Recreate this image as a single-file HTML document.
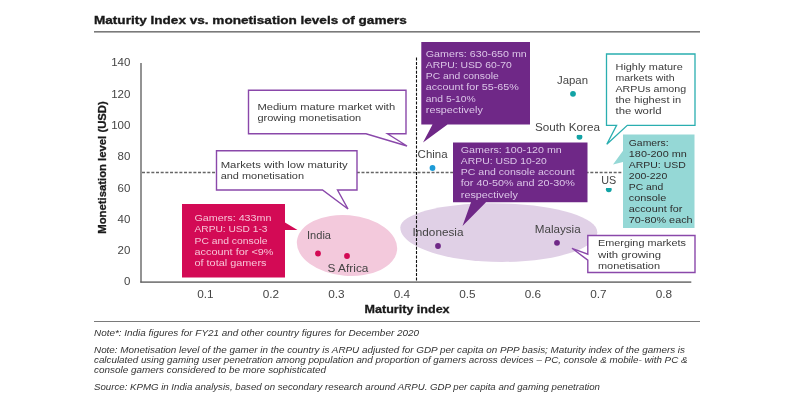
<!DOCTYPE html>
<html lang="en">
<head>
<meta charset="utf-8">
<title>Maturity Index vs. monetisation levels of gamers</title>
<style>
html,body{margin:0;padding:0;background:#fff;}
body{width:800px;height:400px;overflow:hidden;font-family:"Liberation Sans",sans-serif;}
svg{display:block;position:absolute;left:0;top:0;filter:blur(0.45px);}
text{font-family:"Liberation Sans",sans-serif;}
.b{font-weight:bold;}
.i{font-style:italic;}
</style>
</head>
<body>
<svg width="800" height="400" viewBox="0 0 800 400">
<rect x="0" y="0" width="800" height="400" fill="#ffffff"/>
<text x="94" y="24.2" font-size="11.5" fill="#1a1a1a" class="b" textLength="312.8" lengthAdjust="spacingAndGlyphs" stroke="#1a1a1a" stroke-width="0.35">Maturity Index vs. monetisation levels of gamers</text>
<rect x="94" y="31" width="606" height="1.6" fill="#7a7a7a"/>
<ellipse cx="347" cy="245.5" rx="50.3" ry="30.3" fill="#f3c9dc" transform="rotate(5 347 245.5)"/>
<path d="M400.3,227.5 C400.3,214.1 441.4,203.3 492,203.3 C550.2,203.3 597.3,216.3 597.3,232.3 C597.3,248.7 554.6,262 502,262 C445.8,262 400.3,246.6 400.3,227.5 Z" fill="#e0d0e6"/>
<rect x="140.3" y="63" width="1.4" height="219.5" fill="#666"/>
<rect x="140.3" y="281.4" width="551" height="1.4" fill="#606060"/>
<line x1="142" y1="172.5" x2="640" y2="172.5" stroke="#666" stroke-width="1.45" stroke-dasharray="3 1.67"/>
<line x1="416.5" y1="57.5" x2="416.5" y2="282" stroke="#111" stroke-width="1.1" stroke-dasharray="3 1.4"/>
<text x="124.0" y="285.3" font-size="10.3" fill="#444" textLength="6.4" lengthAdjust="spacingAndGlyphs">0</text>
<text x="117.6" y="254.0" font-size="10.3" fill="#444" textLength="12.8" lengthAdjust="spacingAndGlyphs">20</text>
<text x="117.6" y="222.8" font-size="10.3" fill="#444" textLength="12.8" lengthAdjust="spacingAndGlyphs">40</text>
<text x="117.6" y="191.5" font-size="10.3" fill="#444" textLength="12.8" lengthAdjust="spacingAndGlyphs">60</text>
<text x="117.6" y="160.2" font-size="10.3" fill="#444" textLength="12.8" lengthAdjust="spacingAndGlyphs">80</text>
<text x="111.2" y="129.0" font-size="10.3" fill="#444" textLength="19.2" lengthAdjust="spacingAndGlyphs">100</text>
<text x="111.2" y="97.7" font-size="10.3" fill="#444" textLength="19.2" lengthAdjust="spacingAndGlyphs">120</text>
<text x="111.2" y="66.4" font-size="10.3" fill="#444" textLength="19.2" lengthAdjust="spacingAndGlyphs">140</text>
<text x="197.2" y="298.4" font-size="10.3" fill="#444" textLength="16.4" lengthAdjust="spacingAndGlyphs">0.1</text>
<text x="262.7" y="298.4" font-size="10.3" fill="#444" textLength="16.4" lengthAdjust="spacingAndGlyphs">0.2</text>
<text x="328.2" y="298.4" font-size="10.3" fill="#444" textLength="16.4" lengthAdjust="spacingAndGlyphs">0.3</text>
<text x="393.7" y="298.4" font-size="10.3" fill="#444" textLength="16.4" lengthAdjust="spacingAndGlyphs">0.4</text>
<text x="459.2" y="298.4" font-size="10.3" fill="#444" textLength="16.4" lengthAdjust="spacingAndGlyphs">0.5</text>
<text x="524.7" y="298.4" font-size="10.3" fill="#444" textLength="16.4" lengthAdjust="spacingAndGlyphs">0.6</text>
<text x="590.2" y="298.4" font-size="10.3" fill="#444" textLength="16.4" lengthAdjust="spacingAndGlyphs">0.7</text>
<text x="655.7" y="298.4" font-size="10.3" fill="#444" textLength="16.4" lengthAdjust="spacingAndGlyphs">0.8</text>
<text x="364.6" y="312.6" font-size="10.6" fill="#1a1a1a" class="b" textLength="85" lengthAdjust="spacingAndGlyphs" stroke="#1a1a1a" stroke-width="0.3">Maturity index</text>
<text transform="translate(106.2,233.7) rotate(-90)" font-size="10.8" fill="#1a1a1a" class="b" stroke="#1a1a1a" stroke-width="0.3" textLength="132.5" lengthAdjust="spacingAndGlyphs">Monetisation level (USD)</text>
<path d="M248.5,90.3 H406 V133.8 H387.5 L407,146 L366,133.8 H248.5 Z" fill="#fff" stroke="#8a48aa" stroke-width="1.4" stroke-linejoin="miter"/>
<text x="257.4" y="110" font-size="9.6" fill="#3a3a3a" textLength="137.8" lengthAdjust="spacingAndGlyphs">Medium mature market with</text>
<text x="257.4" y="120.7" font-size="9.6" fill="#3a3a3a" textLength="103.8" lengthAdjust="spacingAndGlyphs">growing monetisation</text>
<path d="M216.5,150.7 H357 V190 H337.5 L348,209 L322.5,190 H216.5 Z" fill="#fff" stroke="#8a48aa" stroke-width="1.4"/>
<text x="220.7" y="168.1" font-size="9.5" fill="#3a3a3a" textLength="127" lengthAdjust="spacingAndGlyphs">Markets with low maturity</text>
<text x="220.7" y="178.9" font-size="9.5" fill="#3a3a3a" textLength="83.3" lengthAdjust="spacingAndGlyphs">and monetisation</text>
<path d="M182,204 H285 V222.5 L297.5,230 H285 V277.5 H182 Z" fill="#d30a55"/>
<text x="194.5" y="220.8" font-size="9.6" fill="#f7c3d6" textLength="77" lengthAdjust="spacingAndGlyphs">Gamers: 433mn</text>
<text x="194.5" y="232.2" font-size="9.6" fill="#f7c3d6" textLength="73" lengthAdjust="spacingAndGlyphs">ARPU: USD 1-3</text>
<text x="194.5" y="243.6" font-size="9.6" fill="#f7c3d6" textLength="73" lengthAdjust="spacingAndGlyphs">PC and console</text>
<text x="194.5" y="255.0" font-size="9.6" fill="#f7c3d6" textLength="79" lengthAdjust="spacingAndGlyphs">account for &lt;9%</text>
<text x="194.5" y="266.4" font-size="9.6" fill="#f7c3d6" textLength="72" lengthAdjust="spacingAndGlyphs">of total gamers</text>
<path d="M421.3,42 H530 V124.5 H447.5 L423,142.5 L432.5,124.5 H421.3 Z" fill="#6f2887"/>
<text x="425.8" y="56.9" font-size="9.6" fill="#dcc6e8" textLength="101" lengthAdjust="spacingAndGlyphs">Gamers: 630-650 mn</text>
<text x="425.8" y="68.0" font-size="9.6" fill="#dcc6e8" textLength="86" lengthAdjust="spacingAndGlyphs">ARPU: USD 60-70</text>
<text x="425.8" y="79.2" font-size="9.6" fill="#dcc6e8" textLength="73" lengthAdjust="spacingAndGlyphs">PC and console</text>
<text x="425.8" y="90.3" font-size="9.6" fill="#dcc6e8" textLength="93" lengthAdjust="spacingAndGlyphs">account for 55-65%</text>
<text x="425.8" y="101.5" font-size="9.6" fill="#dcc6e8" textLength="50" lengthAdjust="spacingAndGlyphs">and 5-10%</text>
<text x="425.8" y="112.7" font-size="9.6" fill="#dcc6e8" textLength="57" lengthAdjust="spacingAndGlyphs">respectively</text>
<path d="M453,142.5 H587.5 V202.3 H486 L462.5,226 L471,202.3 H453 Z" fill="#6f2887"/>
<text x="460.8" y="152.6" font-size="9.6" fill="#dcc6e8" textLength="101" lengthAdjust="spacingAndGlyphs">Gamers: 100-120 mn</text>
<text x="460.8" y="163.8" font-size="9.6" fill="#dcc6e8" textLength="86" lengthAdjust="spacingAndGlyphs">ARPU: USD 10-20</text>
<text x="460.8" y="175.1" font-size="9.6" fill="#dcc6e8" textLength="114" lengthAdjust="spacingAndGlyphs">PC and console account</text>
<text x="460.8" y="186.3" font-size="9.6" fill="#dcc6e8" textLength="114" lengthAdjust="spacingAndGlyphs">for 40-50% and 20-30%</text>
<text x="460.8" y="197.6" font-size="9.6" fill="#dcc6e8" textLength="57" lengthAdjust="spacingAndGlyphs">respectively</text>
<path d="M606.5,54 H695 V125.3 H627.3 L606.8,144.2 L616.6,125.3 H606.5 Z" fill="#fff" stroke="#2aaeb0" stroke-width="1.3"/>
<text x="615.5" y="70.0" font-size="9.5" fill="#3a3a3a" textLength="67.3" lengthAdjust="spacingAndGlyphs">Highly mature</text>
<text x="615.5" y="81.0" font-size="9.5" fill="#3a3a3a" textLength="59" lengthAdjust="spacingAndGlyphs">markets with</text>
<text x="615.5" y="91.9" font-size="9.5" fill="#3a3a3a" textLength="70.6" lengthAdjust="spacingAndGlyphs">ARPUs among</text>
<text x="615.5" y="102.8" font-size="9.5" fill="#3a3a3a" textLength="65.6" lengthAdjust="spacingAndGlyphs">the highest in</text>
<text x="615.5" y="113.8" font-size="9.5" fill="#3a3a3a" textLength="46" lengthAdjust="spacingAndGlyphs">the world</text>
<path d="M623,134.5 H694.5 V228 H623 V162 L613,164.6 L623,150.8 Z" fill="#95d8d6"/>
<text x="628.8" y="146.0" font-size="9.6" fill="#2e2e2e" textLength="39.8" lengthAdjust="spacingAndGlyphs">Gamers:</text>
<text x="628.8" y="157.1" font-size="9.6" fill="#2e2e2e" textLength="58" lengthAdjust="spacingAndGlyphs">180-200 mn</text>
<text x="628.8" y="168.1" font-size="9.6" fill="#2e2e2e" textLength="57" lengthAdjust="spacingAndGlyphs">ARPU: USD</text>
<text x="628.8" y="179.2" font-size="9.6" fill="#2e2e2e" textLength="38.5" lengthAdjust="spacingAndGlyphs">200-220</text>
<text x="628.8" y="190.2" font-size="9.6" fill="#2e2e2e" textLength="34.5" lengthAdjust="spacingAndGlyphs">PC and</text>
<text x="628.8" y="201.2" font-size="9.6" fill="#2e2e2e" textLength="37.5" lengthAdjust="spacingAndGlyphs">console</text>
<text x="628.8" y="212.3" font-size="9.6" fill="#2e2e2e" textLength="53.5" lengthAdjust="spacingAndGlyphs">account for</text>
<text x="628.8" y="223.4" font-size="9.6" fill="#2e2e2e" textLength="63.8" lengthAdjust="spacingAndGlyphs">70-80% each</text>
<path d="M587.8,235.5 H695 V272.5 H587.8 V260.1 L572,248.3 L587.8,254.2 Z" fill="#fff" stroke="#8a48aa" stroke-width="1.4"/>
<text x="598" y="246.3" font-size="9.6" fill="#3a3a3a" textLength="88" lengthAdjust="spacingAndGlyphs">Emerging markets</text>
<text x="598" y="257.6" font-size="9.6" fill="#3a3a3a" textLength="63" lengthAdjust="spacingAndGlyphs">with growing</text>
<text x="598" y="268.9" font-size="9.6" fill="#3a3a3a" textLength="62" lengthAdjust="spacingAndGlyphs">monetisation</text>
<circle cx="318" cy="253.5" r="2.9" fill="#d30a55"/>
<circle cx="347" cy="256" r="2.9" fill="#d30a55"/>
<circle cx="432.5" cy="168" r="2.9" fill="#1e9bd7"/>
<circle cx="573" cy="93.8" r="2.9" fill="#12a3a5"/>
<circle cx="579.5" cy="136.8" r="2.9" fill="#12a3a5"/>
<circle cx="608.8" cy="189.3" r="2.9" fill="#12a3a5"/>
<circle cx="438" cy="246" r="2.9" fill="#6f2887"/>
<circle cx="557" cy="242.8" r="2.9" fill="#6f2887"/>
<rect x="575" y="131" width="10" height="3.9" fill="#fff"/>
<rect x="604" y="184.5" width="10" height="3.5" fill="#fff"/>
<text x="307" y="238.8" font-size="10" fill="#444" textLength="24" lengthAdjust="spacingAndGlyphs">India</text>
<text x="327.6" y="271.6" font-size="10" fill="#444" textLength="40.8" lengthAdjust="spacingAndGlyphs">S Africa</text>
<text x="417.6" y="158" font-size="10" fill="#444" textLength="30" lengthAdjust="spacingAndGlyphs">China</text>
<text x="557" y="83.8" font-size="10" fill="#444" textLength="31" lengthAdjust="spacingAndGlyphs">Japan</text>
<text x="535" y="130.5" font-size="10" fill="#444" textLength="65" lengthAdjust="spacingAndGlyphs">South Korea</text>
<text x="601.3" y="183.8" font-size="10" fill="#444" textLength="15" lengthAdjust="spacingAndGlyphs">US</text>
<text x="412.5" y="235.6" font-size="10" fill="#444" textLength="51" lengthAdjust="spacingAndGlyphs">Indonesia</text>
<text x="534.7" y="232.6" font-size="10" fill="#444" textLength="46" lengthAdjust="spacingAndGlyphs">Malaysia</text>
<rect x="94" y="321" width="606" height="1" fill="#7a7a7a"/>
<text x="94" y="335.6" font-size="8.7" fill="#333" class="i" textLength="325" lengthAdjust="spacingAndGlyphs">Note*: India figures for FY21 and other country figures for December 2020</text>
<text x="94" y="352.9" font-size="8.7" fill="#333" class="i" textLength="591" lengthAdjust="spacingAndGlyphs">Note: Monetisation level of the gamer in the country is ARPU adjusted for GDP per capita on PPP basis; Maturity index of the gamers is</text>
<text x="94" y="363.3" font-size="8.7" fill="#333" class="i" textLength="593.5" lengthAdjust="spacingAndGlyphs">calculated using gaming user penetration among population and proportion of gamers across devices – PC, console &amp; mobile- with PC &amp;</text>
<text x="94" y="373.4" font-size="8.7" fill="#333" class="i" textLength="232" lengthAdjust="spacingAndGlyphs">console gamers considered to be more sophisticated</text>
<text x="94" y="390.2" font-size="8.7" fill="#333" class="i" textLength="506" lengthAdjust="spacingAndGlyphs">Source: KPMG in India analysis, based on secondary research around ARPU. GDP per capita and gaming penetration</text>
</svg>
</body>
</html>
